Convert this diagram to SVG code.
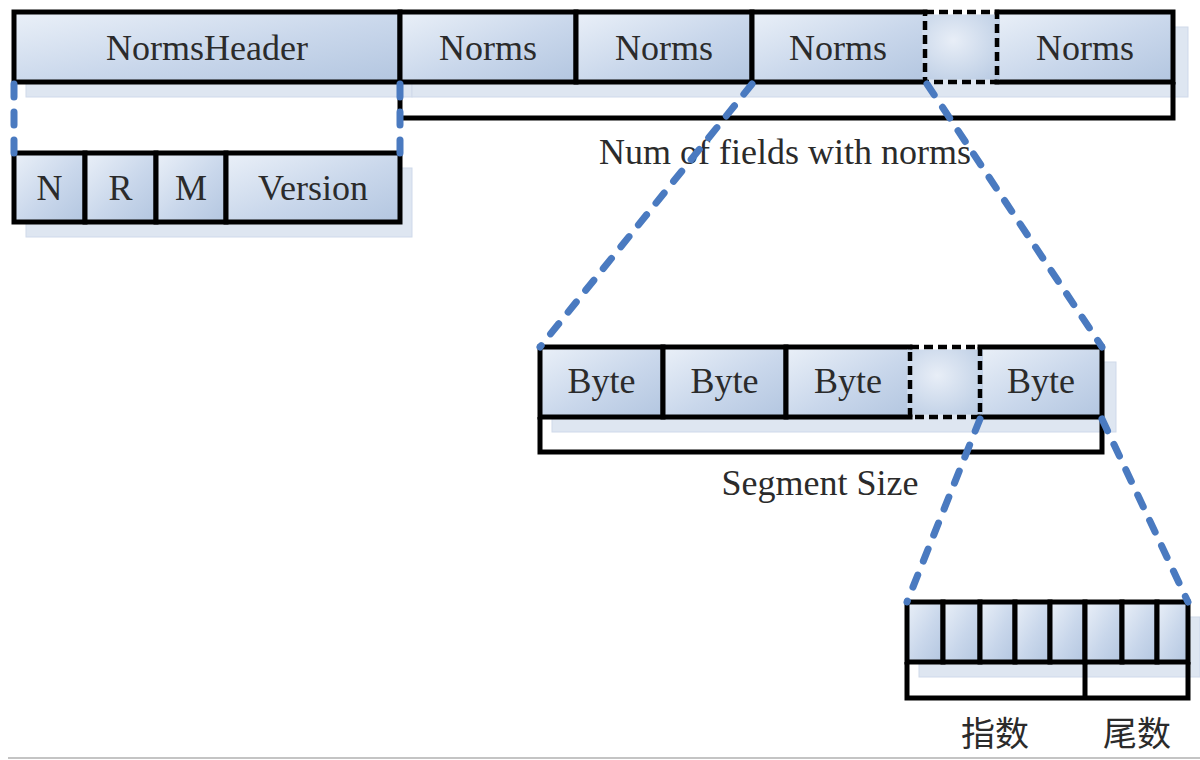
<svg xmlns="http://www.w3.org/2000/svg" width="1200" height="760" viewBox="0 0 1200 760">
  <defs>
    <linearGradient id="cellFill" x1="0" y1="0" x2="1" y2="1">
      <stop offset="0" stop-color="#eaf0f8"/>
      <stop offset="0.55" stop-color="#c9d7eb"/>
      <stop offset="1" stop-color="#b3c6e0"/>
    </linearGradient>
    <radialGradient id="gapFill" cx="0.4" cy="0.4" r="0.8">
      <stop offset="0" stop-color="#e8eef7"/>
      <stop offset="1" stop-color="#b9cbe3"/>
    </radialGradient>
  </defs>
  <style>
    .cell { fill: url(#cellFill); stroke: #000; stroke-width: 5; }
    .gap { fill: none; stroke: #000; stroke-width: 4.5; stroke-dasharray: 9 5; }
    .gapfill { fill: url(#gapFill); stroke: none; }
    .shadow { fill: #dee6f1; stroke: #cfd9ea; stroke-width: 1; }
    .bracket { fill: none; stroke: #000; stroke-width: 5; }
    .lbl { font-family: "Liberation Serif", "Times New Roman", serif; font-size: 36px; fill: #2b2b2b; text-anchor: middle; }
    .cjk { font-family: "Liberation Serif", "Noto Sans CJK SC", serif; font-size: 34px; fill: #2b2b2b; text-anchor: middle; }
    .zoom { fill: none; stroke: #4a7ac0; stroke-width: 7; stroke-linecap: round; stroke-dasharray: 13 15; }
  </style>

  <rect width="1200" height="760" fill="#fff"/>

  <!-- drop shadows -->
  <g id="shadows">
    <rect class="shadow" x="26" y="27" width="386" height="70"/>
    <rect class="shadow" x="412" y="27" width="776" height="70"/>
    <rect class="shadow" x="26" y="168" width="386" height="69"/>
    <rect class="shadow" x="552" y="362" width="564" height="70"/>
    <rect class="shadow" x="919" y="617" width="281" height="60"/>
  </g>

  <!-- top row: header + norms -->
  <g id="norms-header">
    <rect class="cell" x="14" y="12" width="386" height="70"/>
    <text class="lbl" x="207" y="60">NormsHeader</text>
  </g>
  <g id="norms-1">
    <rect class="cell" x="400" y="12" width="176" height="70"/>
    <text class="lbl" x="488" y="60">Norms</text>
  </g>
  <g id="norms-2">
    <rect class="cell" x="576" y="12" width="176" height="70"/>
    <text class="lbl" x="664" y="60">Norms</text>
  </g>
  <g id="norms-3">
    <rect class="cell" x="752" y="12" width="173" height="70"/>
    <text class="lbl" x="838" y="60">Norms</text>
  </g>
  <g id="norms-4">
    <rect class="cell" x="997" y="12" width="176" height="70"/>
    <text class="lbl" x="1085" y="60">Norms</text>
  </g>
  <g id="norms-gap">
    <rect class="gapfill" x="922" y="14.5" width="78" height="65"/>
    <rect class="gap" x="925" y="12" width="72" height="70"/>
  </g>
  <g id="norms-count">
    <path class="bracket" d="M400,82 V118 H1173 V82"/>
    <text class="lbl" x="785" y="164">Num of fields with norms</text>
  </g>

  <!-- header fields -->
  <g id="hdr-n">
    <rect class="cell" x="14" y="153" width="71" height="69"/>
    <text class="lbl" x="49.5" y="200">N</text>
  </g>
  <g id="hdr-r">
    <rect class="cell" x="85" y="153" width="71" height="69"/>
    <text class="lbl" x="120.5" y="200">R</text>
  </g>
  <g id="hdr-m">
    <rect class="cell" x="156" y="153" width="70" height="69"/>
    <text class="lbl" x="191" y="200">M</text>
  </g>
  <g id="hdr-version">
    <rect class="cell" x="226" y="153" width="174" height="69"/>
    <text class="lbl" x="313" y="200">Version</text>
  </g>

  <!-- one norms entry: bytes -->
  <g id="byte-1">
    <rect class="cell" x="540" y="347" width="123" height="70"/>
    <text class="lbl" x="601.5" y="393">Byte</text>
  </g>
  <g id="byte-2">
    <rect class="cell" x="663" y="347" width="123" height="70"/>
    <text class="lbl" x="724.5" y="393">Byte</text>
  </g>
  <g id="byte-3">
    <rect class="cell" x="786" y="347" width="124" height="70"/>
    <text class="lbl" x="848" y="393">Byte</text>
  </g>
  <g id="byte-4">
    <rect class="cell" x="980" y="347" width="122" height="70"/>
    <text class="lbl" x="1041" y="393">Byte</text>
  </g>
  <g id="byte-gap">
    <rect class="gapfill" x="907" y="349.5" width="76" height="65"/>
    <rect class="gap" x="910" y="347" width="70" height="70"/>
  </g>
  <g id="segment-size">
    <path class="bracket" d="M540,417 V452 H1102 V417"/>
    <text class="lbl" x="820" y="495">Segment Size</text>
  </g>

  <!-- one byte: bits -->
  <g id="bits">
    <rect class="cell" x="907" y="602" width="36" height="60"/>
    <rect class="cell" x="943" y="602" width="37" height="60"/>
    <rect class="cell" x="980" y="602" width="35" height="60"/>
    <rect class="cell" x="1015" y="602" width="35" height="60"/>
    <rect class="cell" x="1050" y="602" width="35" height="60"/>
    <rect class="cell" x="1085" y="602" width="37" height="60"/>
    <rect class="cell" x="1122" y="602" width="35" height="60"/>
    <rect class="cell" x="1157" y="602" width="31" height="60"/>
  </g>
  <g id="bits-split">
    <path class="bracket" d="M907,662 V698 H1188 V662 M1085,662 V698"/>
    <text class="cjk" x="995" y="746">指数</text>
    <text class="cjk" x="1137" y="746">尾数</text>
  </g>

  <!-- zoom-in connectors -->
  <g id="connectors">
    <path class="zoom" d="M14,84 V153"/>
    <path class="zoom" d="M400,84 V153"/>
    <path class="zoom" d="M752,84 L540,347"/>
    <path class="zoom" d="M927,84 L1102,347"/>
    <path class="zoom" d="M980,419 L907,602"/>
    <path class="zoom" d="M1102,419 L1188,602"/>
  </g>

  <line x1="8" y1="758" x2="1200" y2="758" stroke="#c4c4c4" stroke-width="2"/>
</svg>
